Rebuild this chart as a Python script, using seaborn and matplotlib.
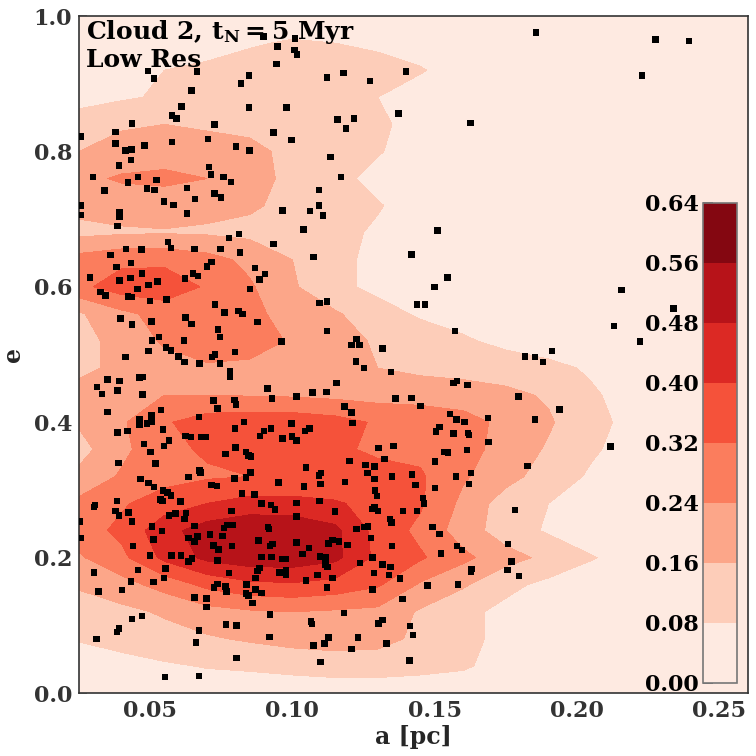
import numpy as np
import pandas as pd
import seaborn as sns
import matplotlib
matplotlib.use("Agg")
import matplotlib.pyplot as plt

# ---------------- data ----------------
a_grid = [0.025, 0.04, 0.055, 0.07, 0.085, 0.10, 0.115, 0.13, 0.145, 0.16, 0.175, 0.19, 0.205, 0.22, 0.235, 0.26]
e_grid = [0.00, 0.04, 0.08, 0.12, 0.16, 0.20, 0.24, 0.28, 0.32, 0.36, 0.40, 0.44, 0.48,
          0.52, 0.56, 0.60, 0.64, 0.68, 0.72, 0.76, 0.80, 0.84, 0.88, 0.92, 0.96, 1.00]
density = [
    [0.02, 0.02, 0.03, 0.03, 0.04, 0.04, 0.04, 0.04, 0.04, 0.03, 0.02, 0.02, 0.01, 0.01, 0.01, 0.01],
    [0.04, 0.05, 0.07, 0.085, 0.09, 0.10, 0.11, 0.11, 0.10, 0.09, 0.05, 0.03, 0.02, 0.02, 0.02, 0.01],
    [0.085, 0.11, 0.13, 0.15, 0.17, 0.19, 0.20, 0.19, 0.14, 0.10, 0.06, 0.04, 0.03, 0.02, 0.02, 0.01],
    [0.12, 0.14, 0.17, 0.21, 0.23, 0.24, 0.23, 0.22, 0.15, 0.10, 0.06, 0.04, 0.03, 0.02, 0.02, 0.01],
    [0.17, 0.21, 0.27, 0.34, 0.38, 0.39, 0.37, 0.33, 0.23, 0.17, 0.10, 0.06, 0.04, 0.03, 0.02, 0.01],
    [0.23, 0.30, 0.42, 0.50, 0.53, 0.53, 0.50, 0.38, 0.33, 0.26, 0.19, 0.14, 0.085, 0.05, 0.03, 0.02],
    [0.28, 0.34, 0.45, 0.52, 0.55, 0.54, 0.50, 0.37, 0.30, 0.20, 0.12, 0.07, 0.04, 0.03, 0.02, 0.02],
    [0.26, 0.31, 0.36, 0.40, 0.43, 0.43, 0.41, 0.37, 0.33, 0.22, 0.12, 0.08, 0.05, 0.03, 0.02, 0.02],
    [0.18, 0.25, 0.29, 0.31, 0.32, 0.32, 0.33, 0.34, 0.33, 0.25, 0.19, 0.12, 0.07, 0.04, 0.02, 0.02],
    [0.13, 0.22, 0.30, 0.33, 0.34, 0.34, 0.33, 0.31, 0.30, 0.27, 0.21, 0.15, 0.09, 0.05, 0.03, 0.02],
    [0.17, 0.23, 0.31, 0.36, 0.37, 0.37, 0.35, 0.31, 0.29, 0.27, 0.22, 0.17, 0.10, 0.06, 0.03, 0.02],
    [0.19, 0.22, 0.24, 0.24, 0.235, 0.23, 0.22, 0.21, 0.21, 0.20, 0.18, 0.15, 0.09, 0.05, 0.03, 0.02],
    [0.14, 0.18, 0.21, 0.23, 0.22, 0.20, 0.18, 0.16, 0.14, 0.13, 0.12, 0.10, 0.07, 0.04, 0.02, 0.02],
    [0.13, 0.19, 0.25, 0.28, 0.28, 0.23, 0.19, 0.15, 0.12, 0.09, 0.06, 0.04, 0.03, 0.02, 0.02, 0.02],
    [0.15, 0.22, 0.27, 0.28, 0.26, 0.21, 0.17, 0.11, 0.07, 0.05, 0.03, 0.02, 0.02, 0.02, 0.02, 0.02],
    [0.30, 0.36, 0.37, 0.31, 0.25, 0.17, 0.10, 0.06, 0.04, 0.03, 0.02, 0.02, 0.02, 0.02, 0.02, 0.02],
    [0.27, 0.30, 0.30, 0.27, 0.22, 0.16, 0.10, 0.06, 0.04, 0.03, 0.02, 0.02, 0.02, 0.02, 0.02, 0.02],
    [0.14, 0.15, 0.155, 0.15, 0.14, 0.12, 0.10, 0.07, 0.04, 0.03, 0.02, 0.02, 0.02, 0.02, 0.02, 0.02],
    [0.18, 0.19, 0.19, 0.18, 0.17, 0.14, 0.11, 0.085, 0.05, 0.03, 0.02, 0.02, 0.02, 0.02, 0.02, 0.02],
    [0.22, 0.25, 0.26, 0.24, 0.19, 0.14, 0.10, 0.06, 0.04, 0.03, 0.02, 0.02, 0.02, 0.02, 0.02, 0.02],
    [0.16, 0.19, 0.20, 0.19, 0.18, 0.14, 0.11, 0.085, 0.05, 0.03, 0.02, 0.02, 0.02, 0.02, 0.02, 0.02],
    [0.12, 0.15, 0.16, 0.15, 0.14, 0.12, 0.11, 0.09, 0.06, 0.03, 0.02, 0.02, 0.02, 0.02, 0.02, 0.02],
    [0.05, 0.07, 0.09, 0.10, 0.11, 0.11, 0.10, 0.08, 0.05, 0.03, 0.02, 0.02, 0.02, 0.02, 0.02, 0.02],
    [0.03, 0.05, 0.08, 0.09, 0.10, 0.11, 0.11, 0.10, 0.085, 0.05, 0.03, 0.02, 0.02, 0.02, 0.02, 0.02],
    [0.02, 0.03, 0.05, 0.06, 0.075, 0.085, 0.08, 0.07, 0.05, 0.03, 0.02, 0.02, 0.02, 0.02, 0.02, 0.02],
    [0.01, 0.02, 0.03, 0.04, 0.05, 0.05, 0.05, 0.04, 0.03, 0.02, 0.02, 0.02, 0.02, 0.02, 0.02, 0.02],
]
levels = [0.00, 0.08, 0.16, 0.24, 0.32, 0.40, 0.48, 0.56, 0.64]

stars_top_left = [
    (0.0493, 0.919), (0.0514, 0.908), (0.0665, 0.918), (0.0847, 0.912), (0.0819, 0.900), (0.0645, 0.890),
    (0.0610, 0.866), (0.0576, 0.853), (0.0593, 0.849), (0.0847, 0.865), (0.0979, 0.865), (0.0436, 0.841),
    (0.0726, 0.840), (0.0379, 0.829), (0.0379, 0.812), (0.0481, 0.809), (0.0577, 0.814), (0.0703, 0.818),
    (0.0801, 0.807), (0.0849, 0.801), (0.0413, 0.801), (0.0434, 0.803), (0.0432, 0.787), (0.0390, 0.779),
    (0.0300, 0.762), (0.0422, 0.754), (0.0458, 0.762), (0.0522, 0.758), (0.0489, 0.745), (0.0516, 0.743),
    (0.0629, 0.746), (0.0340, 0.742), (0.0707, 0.777), (0.0714, 0.766), (0.0757, 0.762), (0.0785, 0.755),
    (0.0726, 0.738), (0.0749, 0.732), (0.0658, 0.730), (0.0548, 0.726), (0.0583, 0.721), (0.0630, 0.708),
    (0.0393, 0.710), (0.0392, 0.704), (0.0386, 0.690), (0.0562, 0.666), (0.0777, 0.672), (0.0813, 0.678),
    (0.0965, 0.713), (0.1039, 0.685), (0.0934, 0.828), (0.0997, 0.817), (0.0944, 0.929), (0.0947, 0.955),
    (0.1007, 0.950), (0.1016, 0.943), (0.0898, 0.970), (0.1009, 0.967), (0.0933, 0.663),
    (0.0255, 0.822), (0.0255, 0.720), (0.0255, 0.706),
]
stars_top_mid = [
    (0.1121, 0.909), (0.1180, 0.916), (0.1272, 0.904), (0.1400, 0.918), (0.1372, 0.856), (0.1626, 0.842),
    (0.1158, 0.847), (0.1217, 0.849), (0.1188, 0.834), (0.1133, 0.792), (0.1170, 0.762), (0.1093, 0.743),
    (0.1094, 0.720), (0.1062, 0.712), (0.1108, 0.705), (0.1510, 0.683),
]
stars_top_right = [(0.1856, 0.976), (0.2276, 0.965), (0.2394, 0.963), (0.2228, 0.912)]
stars_mid_left = [
    (0.0415, 0.656), (0.0469, 0.655), (0.0573, 0.657), (0.0655, 0.656), (0.0748, 0.656), (0.0815, 0.651),
    (0.0360, 0.647), (0.0433, 0.635), (0.0381, 0.629), (0.0471, 0.620), (0.0431, 0.613), (0.0393, 0.609),
    (0.0289, 0.614), (0.0525, 0.608), (0.0494, 0.603), (0.0456, 0.597), (0.0325, 0.592), (0.0343, 0.587),
    (0.0423, 0.586), (0.0437, 0.585), (0.0499, 0.579), (0.0557, 0.581), (0.0623, 0.612), (0.0650, 0.620),
    (0.0669, 0.616), (0.0700, 0.630), (0.0716, 0.637), (0.0869, 0.628), (0.0904, 0.619), (0.0884, 0.611),
    (0.0851, 0.597), (0.0728, 0.574), (0.0761, 0.562), (0.0810, 0.564), (0.0825, 0.560), (0.0877, 0.548),
    (0.0396, 0.553), (0.0437, 0.544), (0.0505, 0.549), (0.0625, 0.555), (0.0646, 0.545), (0.0738, 0.537),
    (0.0746, 0.526), (0.0619, 0.521), (0.0531, 0.526), (0.0507, 0.521), (0.0495, 0.505), (0.0555, 0.510),
    (0.0574, 0.506), (0.0599, 0.497), (0.0620, 0.489), (0.0674, 0.487), (0.0717, 0.496), (0.0728, 0.500),
    (0.0745, 0.487), (0.0799, 0.504), (0.0961, 0.519), (0.0780, 0.476), (0.0780, 0.467), (0.0414, 0.496),
    (0.0350, 0.463), (0.0392, 0.461), (0.0313, 0.452), (0.0385, 0.447), (0.0330, 0.442), (0.0462, 0.466),
    (0.0475, 0.467), (0.0474, 0.441), (0.0912, 0.450), (0.0928, 0.435), (0.1015, 0.438), (0.0722, 0.432),
    (0.0796, 0.433), (0.0802, 0.426), (0.0737, 0.420), (0.0351, 0.415), (0.0538, 0.418), (0.0671, 0.408),
    (0.0504, 0.411), (0.0462, 0.405), (0.0463, 0.396), (0.0489, 0.398), (0.0505, 0.401), (0.0386, 0.385),
    (0.0421, 0.387), (0.0546, 0.389), (0.0798, 0.391), (0.0830, 0.400), (0.0924, 0.391), (0.0901, 0.387),
    (0.0886, 0.380), (0.0997, 0.398), (0.1044, 0.387), (0.1060, 0.391), (0.0965, 0.376), (0.0999, 0.379),
    (0.1015, 0.373), (0.0625, 0.380), (0.0644, 0.378), (0.0681, 0.378), (0.0696, 0.378), (0.0479, 0.368),
    (0.0566, 0.373), (0.0549, 0.365), (0.0501, 0.356), (0.0764, 0.353), (0.0800, 0.363), (0.0837, 0.356),
    (0.0845, 0.351), (0.0855, 0.349), (0.0388, 0.340), (0.0518, 0.339), (0.0674, 0.329),
]
stars_mid_mid = [
    (0.1075, 0.644), (0.1419, 0.648), (0.1545, 0.614), (0.1500, 0.600), (0.1438, 0.574), (0.1466, 0.574),
    (0.1571, 0.535), (0.1095, 0.576), (0.1121, 0.578), (0.1122, 0.535), (0.1226, 0.523), (0.1208, 0.514),
    (0.1235, 0.514), (0.1316, 0.509), (0.1223, 0.490), (0.1251, 0.480), (0.1346, 0.474), (0.1155, 0.458),
    (0.1070, 0.444), (0.1119, 0.445), (0.1567, 0.458), (0.1579, 0.461), (0.1615, 0.455), (0.1817, 0.497),
    (0.1795, 0.438), (0.1362, 0.435), (0.1418, 0.436), (0.1451, 0.424), (0.1183, 0.423), (0.1208, 0.414),
    (0.1212, 0.399), (0.1553, 0.412), (0.1577, 0.404), (0.1605, 0.400), (0.1687, 0.406), (0.1517, 0.393),
    (0.1504, 0.386), (0.1567, 0.383), (0.1617, 0.384), (0.1620, 0.381), (0.1689, 0.371), (0.1302, 0.362),
    (0.1355, 0.365), (0.1324, 0.346), (0.1200, 0.343), (0.1256, 0.337), (0.1288, 0.335), (0.1501, 0.342),
    (0.1535, 0.356), (0.1547, 0.355), (0.1613, 0.359), (0.1826, 0.335), (0.1048, 0.333),
]
stars_mid_right = [
    (0.2156, 0.595), (0.2340, 0.568), (0.2130, 0.542), (0.2222, 0.519), (0.1853, 0.496), (0.1881, 0.489),
    (0.1913, 0.505), (0.1938, 0.419), (0.1853, 0.404), (0.2117, 0.364),
]
stars_low_left = [
    (0.0677, 0.326), (0.0635, 0.319), (0.0466, 0.316), (0.0494, 0.310), (0.0513, 0.304), (0.0546, 0.299),
    (0.0561, 0.296), (0.0574, 0.292), (0.0536, 0.286), (0.0543, 0.284), (0.0607, 0.283), (0.0715, 0.307),
    (0.0735, 0.306), (0.0796, 0.317), (0.0837, 0.318), (0.0852, 0.326), (0.0952, 0.311), (0.1041, 0.305),
    (0.0822, 0.295), (0.0867, 0.293), (0.0891, 0.280), (0.0924, 0.278), (0.0938, 0.271), (0.1015, 0.281),
    (0.1015, 0.261), (0.0383, 0.284), (0.0307, 0.278), (0.0303, 0.275), (0.0378, 0.269), (0.0390, 0.262),
    (0.0424, 0.267), (0.0436, 0.253), (0.0566, 0.262), (0.0590, 0.265), (0.0626, 0.266), (0.0620, 0.257),
    (0.0786, 0.269), (0.0506, 0.246), (0.0541, 0.239), (0.0656, 0.247), (0.0759, 0.244), (0.0770, 0.248),
    (0.0789, 0.248), (0.0711, 0.234), (0.0754, 0.232), (0.0634, 0.229), (0.0667, 0.231), (0.0656, 0.224),
    (0.0511, 0.227), (0.0723, 0.218), (0.0740, 0.212), (0.0787, 0.217), (0.0880, 0.225), (0.0915, 0.245),
    (0.0918, 0.242), (0.0921, 0.217), (0.0930, 0.220), (0.1015, 0.222), (0.1059, 0.214), (0.0254, 0.253),
    (0.0256, 0.229), (0.0440, 0.217), (0.0499, 0.203), (0.0575, 0.203), (0.0608, 0.203), (0.0634, 0.194),
    (0.0647, 0.199), (0.0737, 0.196), (0.0892, 0.201), (0.0927, 0.201), (0.0964, 0.198), (0.0978, 0.198),
    (0.1035, 0.205), (0.0554, 0.184), (0.0458, 0.182), (0.0302, 0.178), (0.0432, 0.165), (0.0511, 0.164),
    (0.0549, 0.170), (0.0777, 0.177), (0.0884, 0.185), (0.0877, 0.180), (0.0870, 0.170), (0.0954, 0.178),
    (0.0978, 0.182), (0.0978, 0.175), (0.1047, 0.166), (0.0737, 0.161), (0.0724, 0.156), (0.0764, 0.157),
    (0.0769, 0.150), (0.0839, 0.160), (0.0870, 0.153), (0.0892, 0.148), (0.0837, 0.147), (0.0846, 0.144),
    (0.0860, 0.133), (0.0655, 0.141), (0.0698, 0.140), (0.0698, 0.127), (0.0319, 0.150), (0.0401, 0.152),
    (0.0472, 0.114), (0.0436, 0.109), (0.0921, 0.116), (0.0390, 0.095), (0.0383, 0.090), (0.0312, 0.080),
    (0.0672, 0.092), (0.0662, 0.075), (0.0767, 0.101), (0.0804, 0.100), (0.0919, 0.083), (0.0803, 0.052),
    (0.0552, 0.024), (0.0672, 0.025),
]
stars_low_mid = [
    (0.1101, 0.325), (0.1093, 0.321), (0.1099, 0.309), (0.1184, 0.312), (0.1263, 0.325), (0.1289, 0.334),
    (0.1289, 0.316), (0.1350, 0.320), (0.1420, 0.323), (0.1433, 0.307), (0.1501, 0.303), (0.1575, 0.320),
    (0.1627, 0.325), (0.1621, 0.309), (0.1459, 0.288), (0.1463, 0.280), (0.1095, 0.284), (0.1150, 0.268),
    (0.1291, 0.299), (0.1298, 0.291), (0.1281, 0.272), (0.1289, 0.275), (0.1300, 0.269), (0.1388, 0.269),
    (0.1438, 0.269), (0.1343, 0.257), (0.1348, 0.252), (0.1492, 0.245), (0.1517, 0.235), (0.1225, 0.242),
    (0.1254, 0.245), (0.1265, 0.246), (0.1277, 0.229), (0.1141, 0.226), (0.1126, 0.221), (0.1163, 0.224),
    (0.1193, 0.219), (0.1350, 0.217), (0.1579, 0.217), (0.1596, 0.211), (0.1523, 0.206), (0.1097, 0.202),
    (0.1117, 0.200), (0.1116, 0.190), (0.1124, 0.186), (0.1237, 0.192), (0.1281, 0.200), (0.1316, 0.190),
    (0.1344, 0.186), (0.1286, 0.177), (0.1339, 0.174), (0.1088, 0.174), (0.1141, 0.170), (0.1378, 0.169),
    (0.1122, 0.156), (0.1281, 0.153), (0.1474, 0.159), (0.1582, 0.160), (0.1629, 0.183), (0.1627, 0.179),
    (0.1386, 0.139), (0.1757, 0.220), (0.1770, 0.194), (0.1755, 0.182), (0.1797, 0.173), (0.1782, 0.270),
    (0.1182, 0.118), (0.1066, 0.106), (0.1068, 0.102), (0.1302, 0.103), (0.1316, 0.108), (0.1413, 0.099),
    (0.1424, 0.086), (0.1127, 0.082), (0.1230, 0.082), (0.1331, 0.073), (0.1074, 0.070), (0.1112, 0.073),
    (0.1207, 0.065), (0.1098, 0.046), (0.1412, 0.048),
]

x_ticks = [0.05, 0.10, 0.15, 0.20, 0.25]
y_ticks = [0.0, 0.2, 0.4, 0.6, 0.8, 1.0]
title_text = "Cloud 2, $t_N = 5$ Myr\nLow Res"
x_label = "a [pc]"
y_label = "e"

# ---------------- style ----------------
sns.set_style("ticks")
plt.rcParams["font.family"] = ["DejaVu Serif"]
plt.rcParams["font.weight"] = "bold"
plt.rcParams["axes.labelweight"] = "bold"
plt.rcParams["mathtext.fontset"] = "dejavuserif"
plt.rcParams["mathtext.default"] = "bf"

stars = pd.DataFrame(
    stars_top_left + stars_top_mid + stars_top_right + stars_mid_left + stars_mid_mid
    + stars_mid_right + stars_low_left + stars_low_mid,
    columns=["a", "e"],
)

fig = plt.figure(figsize=(7.56, 7.56), dpi=100)
ax = fig.add_axes([0.1045, 0.0833, 0.8845, 0.8955])

cs = ax.contourf(a_grid, e_grid, np.array(density), levels=levels, cmap="Reds", zorder=1)
sns.scatterplot(data=stars, x="a", y="e", marker="s", s=22, color="black",
                linewidth=0, edgecolor="none", ax=ax, legend=False, zorder=3)

ax.set_xlim(0.025, 0.26)
ax.set_ylim(0.0, 1.0)
ax.set_xticks(x_ticks)
ax.set_xticklabels([f"{v:.2f}" for v in x_ticks])
ax.set_yticks(y_ticks)
ax.set_yticklabels([f"{v:.1f}" for v in y_ticks])
ax.tick_params(direction="in", length=6, width=1.2, labelsize=16, color="#888888",
               labelcolor="#333333", pad=5)
for lab in ax.get_xticklabels() + ax.get_yticklabels():
    lab.set_fontweight("bold")
for sp in ax.spines.values():
    sp.set_color("#333333")
    sp.set_linewidth(1.2)
ax.set_xlabel(x_label, fontsize=17, fontweight="bold", labelpad=2)
ax.set_ylabel(y_label, fontsize=17, fontweight="bold", labelpad=6)

ax.text(0.01, 0.997, title_text, transform=ax.transAxes, ha="left", va="top",
        fontsize=18, fontweight="bold", color="black", linespacing=1.1, zorder=5)

cax = fig.add_axes([0.930, 0.0966, 0.045, 0.635])
cb = fig.colorbar(cs, cax=cax, ticks=levels)
cax.yaxis.set_ticks_position("left")
cax.yaxis.set_label_position("left")
cax.set_yticklabels([f"{v:.2f}" for v in levels])
cax.tick_params(direction="in", length=7, width=1.2, labelsize=16, color="#555555",
                labelcolor="black", pad=3)
for lab in cax.get_yticklabels():
    lab.set_fontweight("bold")
cb.outline.set_edgecolor("#777777")
cb.outline.set_linewidth(1.2)

fig.savefig("out.png", dpi=100)
